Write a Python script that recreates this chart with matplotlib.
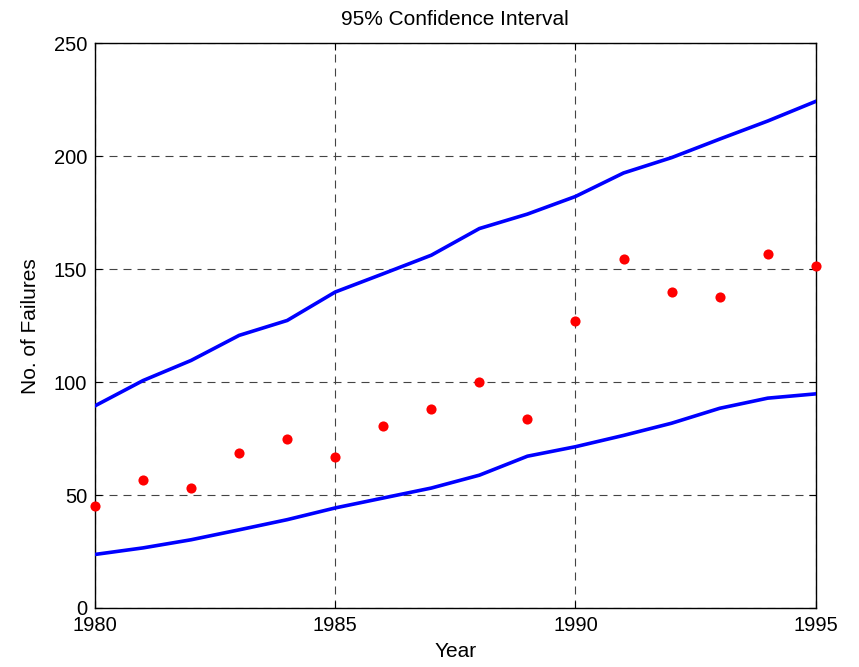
import matplotlib
matplotlib.use("Agg")
import matplotlib.pyplot as plt

years = list(range(1980, 1996))
failures = [45.0, 56.6, 52.9, 68.4, 74.9, 66.9, 80.7, 88.1, 100.0, 83.8,
            127.1, 154.5, 139.7, 137.6, 156.6, 151.4]
upper = [89.5, 100.7, 109.6, 120.7, 127.3, 139.9, 148.0, 156.2, 168.0, 174.4,
         182.2, 192.6, 199.4, 207.6, 215.6, 224.3]
lower = [23.7, 26.6, 30.2, 34.6, 39.1, 44.3, 48.7, 53.1, 58.8, 67.2,
         71.4, 76.4, 81.8, 88.4, 92.9, 94.8]
xticks = [1980, 1985, 1990, 1995]
yticks = [0, 50, 100, 150, 200, 250]

plt.rcParams['font.family'] = ['Liberation Sans', 'DejaVu Sans']

fig = plt.figure(figsize=(8.59, 6.67), dpi=100)
ax = fig.add_axes([0.1106, 0.0885, 0.8390, 0.8465])

ax.plot(years, upper, color='#0000ff', linewidth=2.6, zorder=3)
ax.plot(years, lower, color='#0000ff', linewidth=2.6, zorder=3)
ax.plot(years, failures, linestyle='none', marker='o', color='#ff0000',
        markersize=7.3, markeredgewidth=0, clip_on=False, zorder=4)

ax.set_xlim(1980, 1995)
ax.set_ylim(0, 250)
ax.set_xticks(xticks)
ax.set_yticks(yticks)
ax.tick_params(direction='in', length=5, width=0.8, labelsize=14.5,
               top=True, right=True)
ax.tick_params(axis='x', pad=6)
ax.tick_params(axis='y', pad=5.5)
ax.grid(True, color='#444444', linestyle=(0, (7.2, 5.4)), linewidth=0.8)
for s in ax.spines.values():
    s.set_linewidth(1.0)
    s.set_color('black')

ax.set_title('95% Confidence Interval', fontsize=15, pad=13)
ax.set_xlabel('Year', fontsize=15, labelpad=5)
ax.set_ylabel('No. of Failures', fontsize=15, labelpad=10)

fig.savefig('out.png', dpi=100)
